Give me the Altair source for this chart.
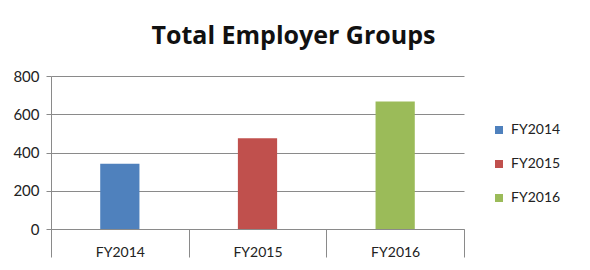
import altair as alt
import pandas as pd

categories = ["FY2014", "FY2015", "FY2016"]
values = [341, 475, 667]
colors = ["#4F81BD", "#C0504D", "#9BBB59"]
y_ticks = [0, 200, 400, 600, 800]

df = pd.DataFrame({"year": categories, "groups": values})

FONT = "Lato"

chart = (
    alt.Chart(df)
    .mark_bar(width=alt.RelativeBandSize(0.285))
    .encode(
        x=alt.X(
            "year:N",
            sort=categories,
            title=None,
            scale=alt.Scale(paddingInner=0, paddingOuter=0),
            axis=alt.Axis(
                labelAngle=0,
                tickBand="extent",
                tickSize=28,
                tickColor="#8a8a8a",
                domainColor="#8a8a8a",
                labelPadding=-12,
                labelFontSize=14,
                labelColor="#222222",
                labelFont=FONT,
                grid=False,
            ),
        ),
        y=alt.Y(
            "groups:Q",
            title=None,
            scale=alt.Scale(domain=[0, 800], nice=False),
            axis=alt.Axis(
                values=y_ticks,
                tickSize=5,
                tickColor="#8a8a8a",
                domainColor="#8a8a8a",
                gridColor="#8a8a8a",
                labelPadding=7,
                labelFontSize=15,
                labelColor="#222222",
                labelFont=FONT,
            ),
        ),
        color=alt.Color(
            "year:N",
            sort=categories,
            scale=alt.Scale(domain=categories, range=colors),
            legend=alt.Legend(
                title=None,
                orient="none",
                legendX=441,
                legendY=47,
                symbolType="square",
                symbolSize=64,
                symbolStrokeWidth=0,
                labelFontSize=14,
                labelFont=FONT,
                labelColor="#222222",
                labelOffset=5,
                rowPadding=20,
            ),
        ),
    )
    .properties(
        width=413,
        height=153,
        padding={"left": 51, "top": 76, "right": 126, "bottom": 41},
        autosize=alt.AutoSizeParams(type="none"),
        background="white",
        title=alt.TitleParams(
            "Total Employer Groups",
            font="Open Sans",
            fontSize=25,
            fontWeight="bold",
            color="#111111",
            anchor="middle",
            dx=36,
            offset=20,
        ),
    )
    .configure_view(stroke=None)
)

chart.save("out.html", embed_options={"renderer": "svg", "actions": False})
